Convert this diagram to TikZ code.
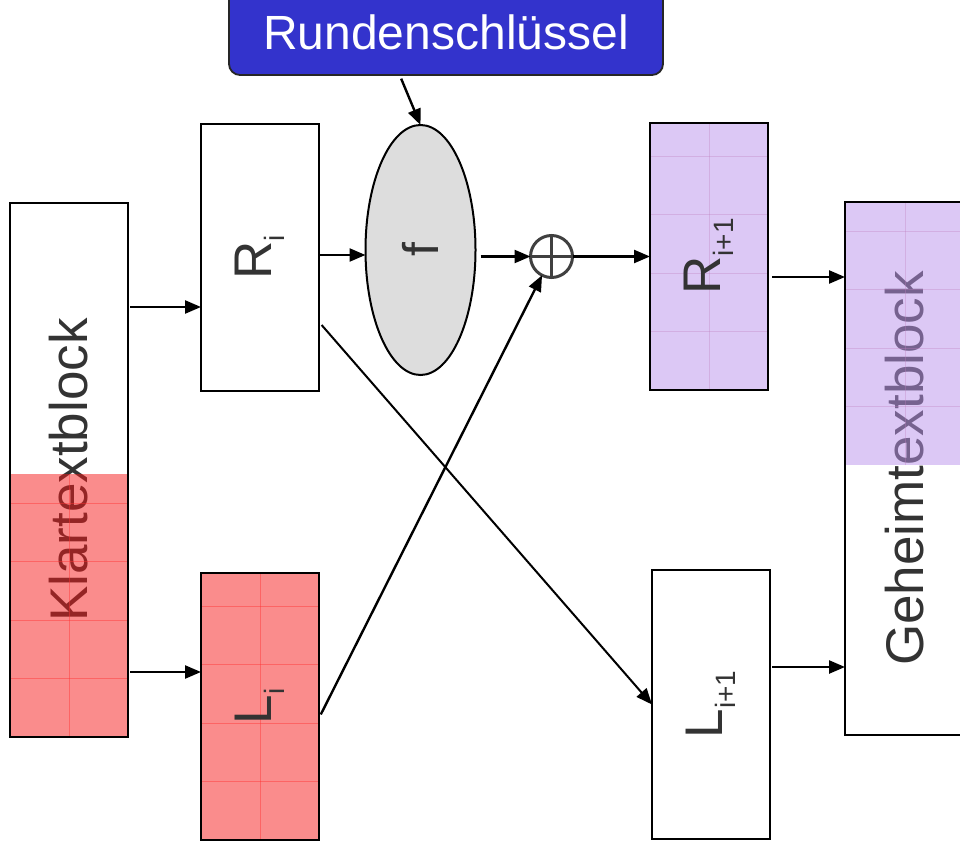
\documentclass[tikz,border=0pt]{standalone}
\usepackage{fontspec}
\setmainfont{Liberation Sans}
\usepackage{xcolor}
\usetikzlibrary{arrows.meta}
\usetikzlibrary{shapes}

\definecolor{txtgray}{RGB}{51,51,51}
\definecolor{keyblue}{RGB}{51,51,204}
\definecolor{klarred}{RGB}{245,25,25}
\definecolor{geheimviolet}{RGB}{185,145,235}
\definecolor{fgray}{RGB}{221,221,221}
\definecolor{xorgray}{RGB}{64,64,64}

\newcommand{\lowidx}[1]{\raisebox{-13pt}{\fontsize{28}{28}\selectfont #1}}
\newcommand{\texgrid}[3]{%
  \foreach \k in {1,...,#3}
    \draw[#2] ([yshift=\k*58.5pt]#1.south west) -- ([yshift=\k*58.5pt]#1.south east);
  \draw[#2] (#1.south) -- (#1.north);}

\tikzset{
  block/.style={draw=black, line width=2.2pt, minimum width=118pt, minimum height=267pt,
    inner sep=0pt, outer sep=0pt},
  bigtext/.style={font=\fontsize{53}{60}\selectfont, text=txtgray, inner sep=0pt},
  redtex/.style={fill=klarred, fill opacity=0.5, text opacity=1, inner sep=0pt, outer sep=0pt,
    minimum width=118pt, minimum height=263pt},
  violettex/.style={fill=geheimviolet, fill opacity=0.5, text opacity=1, inner sep=0pt, outer sep=0pt,
    minimum width=120pt, minimum height=263pt},
  redline/.style={draw=red!80, line width=0.7pt, opacity=0.45},
  violetline/.style={draw=violet!50, line width=0.7pt, opacity=0.35},
  arr/.style={-{Triangle[length=16pt,width=13pt]}, line width=2.4pt},
  frame/.style={line width=2.2pt}
}

\begin{document}
\begin{tikzpicture}[x=1pt, y=-1pt]
\clip (0,0) rectangle (960,858);
%
% Rundenschluessel
\node[draw=black!85, line width=1.8pt, fill=keyblue, rounded corners=11pt, text=white,
  font=\fontsize{48}{54}\selectfont, minimum width=434pt, minimum height=86pt,
  inner sep=0pt] (key) at (446,32) {Rundenschlüssel};
%
% Klartextblock
\node[block, minimum height=534pt] (klar) at (69,470) {};
\node[bigtext] at (klar) {\rotatebox{90}{Klartextblock}};
\node[redtex, anchor=south] (klarfill) at (klar.south) {};
\texgrid{klarfill}{redline}{4}
\draw[frame] (klar.south west) rectangle (klar.north east);
%
% R_i and L_i
\node[block] (Ri) at (260,257.5) {};
\node[bigtext] at (Ri) {\rotatebox{90}{R\lowidx{i}}};
\node[block, redtex, draw=black, draw opacity=1, minimum height=267pt] (Li) at (260,706.5) {};
\texgrid{Li}{redline}{4}
\draw[frame] (Li.south west) rectangle (Li.north east);
\node[bigtext] at (Li) {\rotatebox{90}{L\lowidx{i}}};
%
% f and xor
\node[ellipse, draw=black, line width=2pt, fill=fgray, minimum width=110pt,
  minimum height=250pt, inner sep=0pt, outer sep=0pt] (f) at (420.5,250) {};
\node[bigtext, font=\fontsize{50}{56}\selectfont] at (f) {\rotatebox{90}{f}};
\node[circle, draw=xorgray, line width=3pt, minimum size=42pt, inner sep=0pt,
  outer sep=0pt] (xor) at (551.5,256.5) {};
\draw[xorgray, line width=3pt] (xor.north) -- (xor.south) (xor.west) -- (xor.east);
%
% R_{i+1} and L_{i+1}
\node[block, violettex, draw=black, draw opacity=1, minimum width=118pt,
  minimum height=267pt] (Rn) at (709,256.5) {};
\texgrid{Rn}{violetline}{4}
\draw[frame] (Rn.south west) rectangle (Rn.north east);
\node[bigtext] at (Rn) {\rotatebox{90}{R\lowidx{i+1}}};
\node[block, minimum height=269pt] (Ln) at (711,704.5) {};
\node[bigtext] at (Ln) {\rotatebox{90}{L\lowidx{i+1}}};
%
% Geheimtextblock
\node[block, minimum width=120pt, minimum height=533pt] (geheim) at (905,468.5) {};
\node[bigtext] at (geheim) {\rotatebox{90}{Geheimtextblock}};
\node[violettex, anchor=north] (geheimfill) at (geheim.north) {};
\texgrid{geheimfill}{violetline}{4}
\draw[frame] (geheim.south west) rectangle (geheim.north east);
%
% connectors
\draw[arr, shorten <=3pt] (key.south -| 400,0) -- (f.north);
\draw[arr, shorten <=2pt] (klar.east |- 0,307) -- (Ri.west |- 0,307);
\draw[arr, shorten <=2pt] (klar.east |- 0,672) -- (Li.west |- 0,672);
\draw[arr] (Ri.east |- 0,255) -- (f.west |- 0,255);
\draw[arr, shorten <=5pt] (f.east |- xor) -- (xor.west);
\draw[arr] (xor.east) -- (Rn.west |- xor);
\draw[arr, shorten <=4pt] (Li.east |- 0,718) -- (xor);
\draw[arr, line width=2pt, shorten <=4pt] (Ri.east |- 0,322) -- (Ln.west);
\draw[arr, shorten <=4pt] (Rn.east |- 0,277) -- (geheim.west |- 0,277);
\draw[arr, shorten <=2pt] (Ln.east |- 0,667) -- (geheim.west |- 0,667);
\end{tikzpicture}
\end{document}
